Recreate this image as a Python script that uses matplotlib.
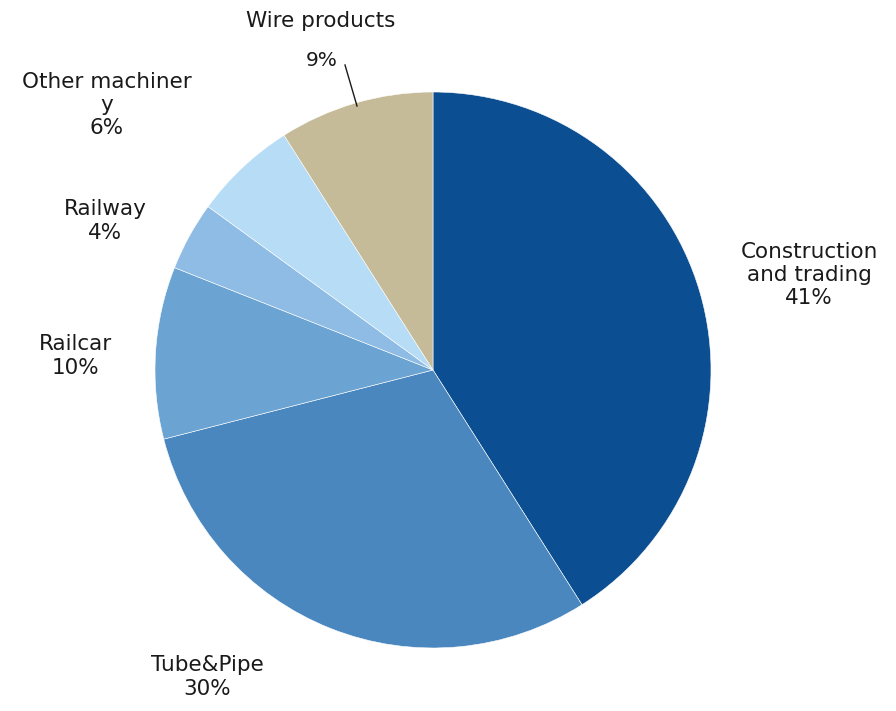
import matplotlib.pyplot as plt

labels = ['Construction\nand trading', 'Tube&Pipe', 'Railcar', 'Railway', 'Other machiner\ny', 'Wire products']
values = [41, 30, 10, 4, 6, 9]
colors = ['#0B4F92', '#4A87BF', '#6BA3D3', '#8EBCE4', '#B6DCF6', '#C5BB99']

fig = plt.figure(figsize=(8.96, 7.11), dpi=100)
ax = fig.add_axes([0, 0, 1, 1])

ax.pie(values, colors=colors, startangle=90, counterclock=False,
       center=(433, 341), radius=278, frame=True,
       wedgeprops=dict(edgecolor='white', linewidth=0.4))
ax.set_xlim(0, 896)
ax.set_ylim(0, 711)
ax.set_aspect('equal')
ax.axis('off')

# label positions (pixel coords, y up)
pos = [(809, 436), (207, 34), (75, 355), (105, 490), (107, 606), (321, 690)]
fs = 15.5
tc = '#1a1a1a'
for lab, v, (x, y) in zip(labels, values, pos):
    if lab == 'Wire products':
        ax.text(x, y, lab, ha='center', va='center', fontsize=fs, color=tc)
        ax.text(322, 651, f'{v}%', ha='center', va='center', fontsize=fs - 1, color=tc)
        ax.plot([345, 357], [646, 605], color=tc, lw=1)
    else:
        ax.text(x, y, f'{lab}\n{v}%', ha='center', va='center', fontsize=fs,
                color=tc, linespacing=1.2)

fig.savefig('out.png', dpi=100)
